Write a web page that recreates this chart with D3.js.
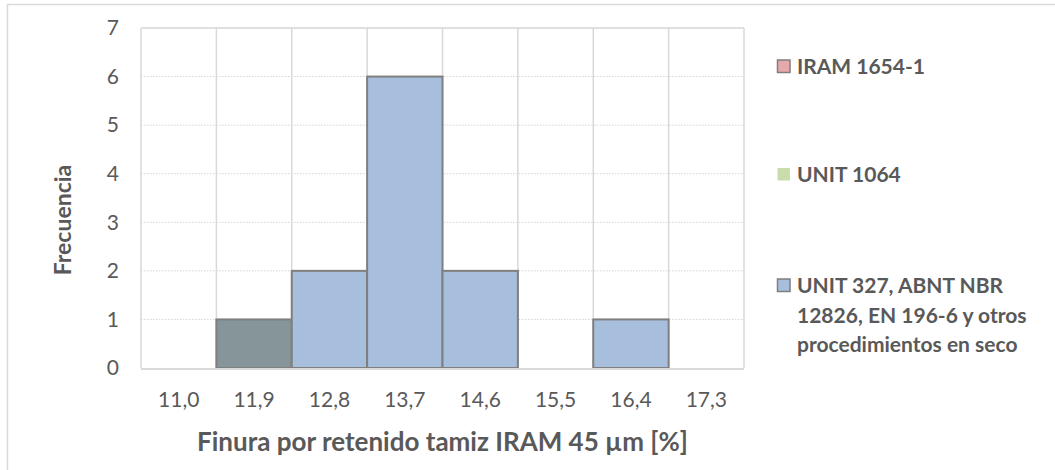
<!DOCTYPE html>
<html><head><meta charset="utf-8">
<script src="https://cdn.jsdelivr.net/npm/d3@7"></script>
<style>
html,body{margin:0;padding:0;background:#fff;}
svg{display:block;font-family:Lato,"Open Sans",sans-serif;}
</style></head>
<body>
<svg id="c" width="1055" height="470"></svg>
<script>
const categories = ["11,0","11,9","12,8","13,7","14,6","15,5","16,4","17,3"];
const seriesNames = ["IRAM 1654-1","UNIT 1064","UNIT 327, ABNT NBR 12826, EN 196-6 y otros procedimientos en seco"];
const iramValues = [0,1,0,0,0,0,0,0];
const unit1064Values = [0,1,0,0,0,0,0,0];
const unit327Values = [0,1,2,6,2,0,1,0];
const yTicks = [0,1,2,3,4,5,6,7];
const seriesColors = ["#e6a9a9","#c9dcab","#a7bfdd"];
const overlapColor = "#869599";
const legendLines = [["IRAM 1654-1"],["UNIT 1064"],["UNIT 327, ABNT NBR","12826, EN 196-6 y otros","procedimientos en seco"]];

const svg = d3.select("#c");
svg.append("rect").attr("x",7.5).attr("y",4.5).attr("width",1060).attr("height",480)
  .attr("fill","none").attr("stroke","#d9d9d9").attr("stroke-width",1.5);

const pL=141, pR=744, pT=28, pB=368;
const x = d3.scaleBand().domain(categories).range([pL,pR]).padding(0);
const y = d3.scaleLinear().domain([0,7]).range([pB,pT]);

svg.append("g").selectAll("line").data(yTicks.filter(d=>d>0)).join("line")
  .attr("x1",pL).attr("x2",pR).attr("y1",d=>y(d)).attr("y2",d=>y(d))
  .attr("stroke","#d4d4d4").attr("stroke-width",1).attr("stroke-dasharray","1.5,1.5");

const edges = categories.map(c=>x(c)).concat([x(categories[categories.length-1])+x.bandwidth()]);
svg.append("g").selectAll("line").data(edges).join("line")
  .attr("x1",d=>d).attr("x2",d=>d).attr("y1",pT).attr("y2",pB)
  .attr("stroke","#d9d9d9").attr("stroke-width",1.5);
svg.append("line").attr("x1",pL).attr("x2",pR).attr("y1",pT).attr("y2",pT)
  .attr("stroke","#d9d9d9").attr("stroke-width",1.5);

const rows = categories.map((c,i)=>({c, vals:[iramValues[i],unit1064Values[i],unit327Values[i]]}));
const barG = svg.append("g");
rows.forEach(r=>{
  const nonzero = r.vals.filter(v=>v>0).length;
  const v = d3.max(r.vals);
  if(v<=0) return;
  const fill = nonzero>1 ? overlapColor : seriesColors[r.vals.findIndex(q=>q>0)];
  barG.append("rect").attr("x",x(r.c)).attr("y",y(v)).attr("width",x.bandwidth()).attr("height",y(0)-y(v))
    .attr("fill",fill).attr("stroke","#7f7f7f").attr("stroke-width",2);
});

svg.append("line").attr("x1",pL).attr("x2",pR).attr("y1",pB+1).attr("y2",pB+1)
  .attr("stroke","#d9d9d9").attr("stroke-width",2);

const yAxis = d3.axisLeft(y).tickValues(yTicks).tickSize(0).tickPadding(0).tickFormat(d3.format("d"));
const ya = svg.append("g").attr("transform",`translate(${pL-22},0)`).call(yAxis);
ya.select(".domain").remove();
ya.selectAll("text").attr("font-size",21).attr("fill","#595959").attr("font-family","Lato,sans-serif");

const xAxis = d3.axisBottom(x).tickSize(0).tickPadding(0);
const xa = svg.append("g").attr("transform",`translate(0,${pB})`).call(xAxis);
xa.select(".domain").remove();
xa.selectAll("text").attr("font-size",21).attr("fill","#595959").attr("font-family","Lato,sans-serif")
  .attr("y",39).attr("dy",null);

svg.append("text").attr("x",(pL+pR)/2).attr("y",451).attr("text-anchor","middle")
  .attr("font-size",26).attr("font-weight","bold").attr("fill","#595959")
  .text("Finura por retenido tamiz IRAM 45 µm [%]");
svg.append("text").attr("transform","translate(71,220) rotate(-90)").attr("text-anchor","middle")
  .attr("font-size",23).attr("font-weight","bold").attr("fill","#595959").text("Frecuencia");

const legendBase = [74,182,293];
const strokes = ["#7f7f7f","none","#7f7f7f"];
legendLines.forEach((lines,i)=>{
  const g = svg.append("g");
  g.append("rect").attr("x",777.5).attr("y",legendBase[i]-14).attr("width",12.5).attr("height",12.5)
    .attr("fill",seriesColors[i]).attr("stroke",strokes[i]).attr("stroke-width",1.5);
  lines.forEach((t,j)=>{
    g.append("text").attr("x",797).attr("y",legendBase[i]+j*29.5)
      .attr("font-size",21).attr("font-weight","bold").attr("fill","#595959").text(t);
  });
});
</script>
</body></html>
